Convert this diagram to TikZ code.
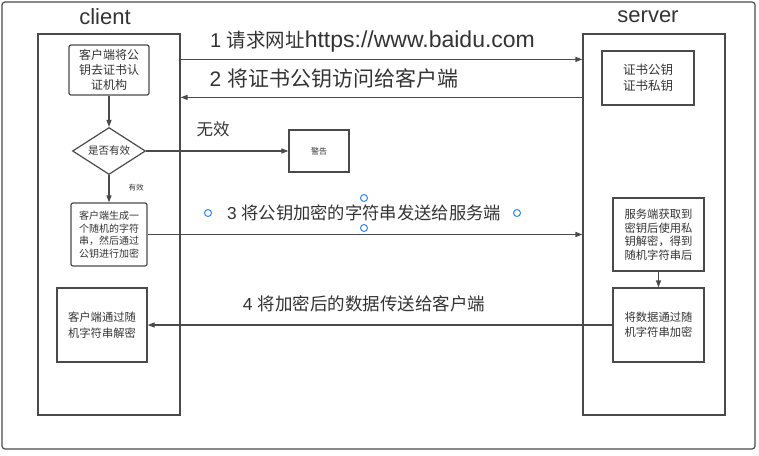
\documentclass[tikz,border=0pt]{standalone}
\usepackage{fontspec}
\setmainfont{Liberation Sans}
\newfontfamily\cjk{Noto Sans CJK SC}
\usetikzlibrary{arrows.meta, shapes.geometric, positioning}
\definecolor{linegray}{HTML}{4A4A4A}
\definecolor{txtgray}{HTML}{333333}
\definecolor{handleblue}{HTML}{2F86F6}
\newcommand{\fs}[2]{\fontsize{#1}{#2}\selectfont}

\begin{document}
\begin{tikzpicture}[x=1pt, y=-1pt,
  every node/.style={text=txtgray},
  col/.style={draw=linegray, line width=1.2pt, minimum width=142pt, minimum height=381pt, inner sep=0pt},
  box/.style={draw=linegray, line width=1.2pt, inner sep=0pt, align=center, font=\cjk\fs{11}{15}},
  lbl/.style={inner sep=0pt, font=\fs{20}{24}},
  arr/.style={draw=linegray, line width=1.2pt, -{Triangle[length=7pt, width=5pt]}},
  handle/.style={circle, draw=handleblue, line width=1pt, minimum size=7pt, inner sep=0pt}]
    \useasboundingbox (0,0) rectangle (759,455);
    \draw[linegray, line width=1.2pt, rounded corners=3pt] (2,2) rectangle (755,449);

    % columns
    \node[col] (client) at (109,224.5) {};
    \node[col] (server) at (654,224.5) {};
    \node[lbl, font=\fs{22}{26}] (clientlbl) at (105,17) {client};
    \node[lbl, font=\fs{22}{26}] (serverlbl) at (648,17) {server};

    % client side
    \node[box, rounded corners=2pt, minimum width=80pt, minimum height=50pt, font=\cjk\fs{12}{15}]
        (askca) at (109,70) {客户端将公\\钥去证书认\\证机构};
    \node[box, diamond, aspect=1.55, minimum width=73pt, minimum height=47pt, font=\cjk\fs{10.5}{13}]
        (valid) at (109,151) {是否有效};
    \node[box, minimum width=60pt, minimum height=42pt, font=\cjk\fs{8}{10}]
        (warn) at (319,151) {警告};
    \node[box, rounded corners=2pt, minimum width=76pt, minimum height=63pt, font=\cjk\fs{10}{12.5}]
        (genkey) at (109,234.5) {客户端生成一\\个随机的字符\\串，然后通过\\公钥进行加密};
    \node[box, minimum width=90pt, minimum height=74pt, font=\cjk\fs{11.3}{16}]
        (decrypt) at (102,325) {客户端通过随\\机字符串解密};

    % server side
    \node[box, minimum width=92pt, minimum height=54pt, font=\cjk\fs{12.5}{16}]
        (certs) at (648,78) {证书公钥\\证书私钥};
    \node[box, minimum width=91pt, minimum height=73pt, font=\cjk\fs{11.3}{13.5}]
        (getkey) at (658.5,234.5) {服务端获取到\\密钥后使用私\\钥解密，得到\\随机字符串后};
    \node[box, minimum width=91pt, minimum height=74pt, font=\cjk\fs{11.3}{15}]
        (encrypt) at (658.5,325) {将数据通过随\\机字符串加密};

    % labels
    \node[lbl] (m1) at (372.5,42) {1 {\cjk\fs{19.5}{24}请求网址}{\fs{23}{26}https://www.baidu.com}};
    \node[lbl, font=\fs{21}{24}] (m2) at (334,78) {2 {\cjk 将证书公钥访问给客户端}};
    \node[lbl, font=\cjk\fs{16.5}{20}] (bad) at (213,129) {无效};
    \node[lbl, font=\cjk\fs{7.5}{9}] (good) at (136,188) {有效};
    \node[lbl, font=\fs{17.3}{20}] (m3) at (364,213) {3 {\cjk 将公钥加密的字符串发送给服务端}};
    \node[lbl, font=\fs{17.5}{20}] (m4) at (364,304) {4 {\cjk 将加密后的数据传送给客户端}};

    % selection handles round label 3
    \node[handle] (hw) at (208,213) {};
    \node[handle] (hn) at (364,198) {};
    \node[handle] (hs) at (364,228) {};
    \node[handle] (he) at (517,213) {};

    % arrows
    \draw[arr] ([yshift=-26pt]client.north east) -- ([yshift=-26pt]server.north west);
    \draw[arr] ([yshift=-64pt]server.north west) -- ([yshift=-64pt]client.north east);
    \draw[arr] (askca) -- (valid);
    \draw[arr] (valid) -- (warn);
    \draw[arr] (valid) -- (genkey);
    \draw[arr] (genkey.east) -- (server.west |- genkey.east);
    \draw[arr] (getkey) -- (encrypt);
    \draw[arr] (encrypt.west) -- (decrypt.east);
\end{tikzpicture}
\end{document}
